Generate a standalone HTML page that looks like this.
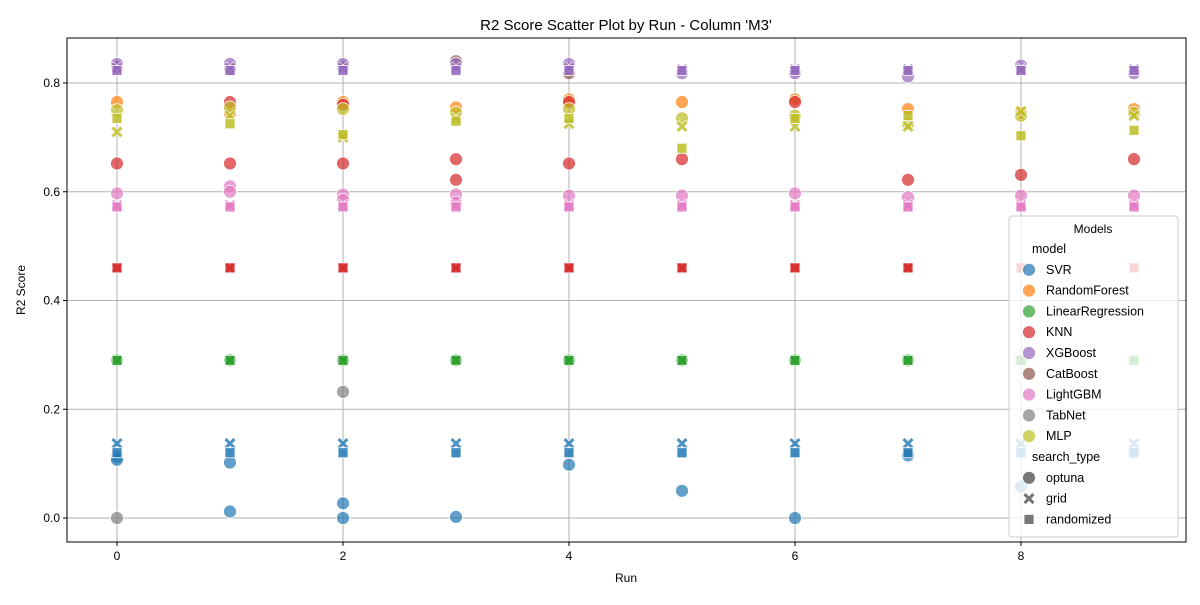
<!DOCTYPE html>
<html><head><meta charset="utf-8"><style>
body{margin:0;background:#fff}
svg text{font-family:"Liberation Sans","DejaVu Sans",sans-serif;fill:#000}
</style></head><body>
<svg id="chart" width="1200" height="600" xmlns="http://www.w3.org/2000/svg">
<rect width="1200" height="600" fill="#fff"/>
<text x="626" y="30" font-size="15" text-anchor="middle">R2 Score Scatter Plot by Run - Column 'M3'</text>
<g id="grid"></g><g id="marks"></g>
<rect x="67" y="38" width="1119" height="504" fill="none" stroke="#000" stroke-width="1"/>
<g id="axes"></g>
<text x="626" y="582" font-size="12" text-anchor="middle">Run</text>
<text transform="translate(25,290) rotate(-90)" font-size="12" text-anchor="middle">R2 Score</text>
<g id="legend"></g>
</svg>
<script>
const runs=[0,1,2,3,4,5,6,7,8,9];
const xTicks=[0,2,4,6,8];
const yTicks=[0.0,0.2,0.4,0.6,0.8];
const models=["SVR","RandomForest","LinearRegression","KNN","XGBoost","CatBoost","LightGBM","TabNet","MLP"];
const colors=["#1f77b4","#ff7f0e","#2ca02c","#d62728","#9467bd","#8c564b","#e377c2","#7f7f7f","#bcbd22"];
const searchTypes=["optuna","grid","randomized"];
const svrOptuna=[[0.112,0.107],[0.102,0.012],[0.027,0.0],[0.002],[0.098],[0.05],[0.0],[0.115],[0.058],[0.12]];
const svrGrid=[0.137,0.137,0.137,0.137,0.137,0.137,0.137,0.137,0.137,0.137];
const svrRand=[0.12,0.12,0.12,0.12,0.12,0.12,0.12,0.12,0.12,0.12];
const rfOptuna=[[0.765],[0.745],[0.765],[0.755],[0.77],[0.765],[0.77],[0.752],[0.745],[0.752]];
const lrOptuna=[[0.29],[0.29],[0.29],[0.29],[0.29],[0.29],[0.29],[0.29],[0.29],[0.29]];
const lrGrid=[0.29,0.29,0.29,0.29,0.29,0.29,0.29,0.29,0.29,0.29];
const lrRand=[0.29,0.29,0.29,0.29,0.29,0.29,0.29,0.29,0.29,0.29];
const knnOptuna=[[0.652],[0.652,0.765],[0.652,0.76],[0.66,0.622],[0.652,0.765],[0.66],[0.765],[0.622],[0.631],[0.66]];
const knnGrid=[0.46,0.46,0.46,0.46,0.46,0.46,0.46,0.46,0.46,0.46];
const knnRand=[0.46,0.46,0.46,0.46,0.46,0.46,0.46,0.46,0.46,0.46];
const catOptuna=[[0.83],[0.825],[0.83],[0.84],[0.818],[],[],[],[],[]];
const xgbOptuna=[[0.835],[0.835],[0.835],[0.835],[0.835],[0.818],[0.818],[0.812],[0.832],[0.818]];
const xgbGrid=[0.828,0.828,0.828,0.828,0.828,0.825,0.825,0.825,0.825,0.825];
const xgbRand=[0.823,0.823,0.823,0.823,0.823,0.823,0.823,0.823,0.823,0.823];
const lgbOptuna=[[0.597],[0.61,0.6],[0.595,0.585],[0.595,0.58],[0.593],[0.593],[0.597],[0.59],[0.593],[0.593]];
const lgbGrid=[0.575,0.575,0.575,0.575,0.575,0.575,0.575,0.575,0.575,0.575];
const lgbRand=[0.572,0.572,0.572,0.572,0.572,0.572,0.572,0.572,0.572,0.572];
const tabOptuna=[[0.0],[],[0.232],[],[],[],[],[],[],[]];
const mlpOptuna=[[0.75],[0.755],[0.752],[0.745],[0.752],[0.735],[0.74],[0.725],[0.74],[0.745]];
const mlpGrid=[0.71,0.74,0.7,0.735,0.725,0.72,0.72,0.72,0.748,0.74];
const mlpRand=[0.735,0.725,0.705,0.73,0.735,0.68,0.735,0.74,0.703,0.713];
const optunaData=[svrOptuna,rfOptuna,lrOptuna,knnOptuna,xgbOptuna,catOptuna,lgbOptuna,tabOptuna,mlpOptuna];
const gridData=[svrGrid,null,lrGrid,knnGrid,xgbGrid,null,lgbGrid,null,mlpGrid];
const randData=[svrRand,null,lrRand,knnRand,xgbRand,null,lgbRand,null,mlpRand];
const drawOrder=[0,1,2,3,5,4,6,7,8];

const NS="http://www.w3.org/2000/svg";
const xS=v=>117+v*113;
const yS=v=>518-v*543.75;
function mk(tag,attrs,parent){const e=document.createElementNS(NS,tag);for(const k in attrs)e.setAttribute(k,attrs[k]);parent.appendChild(e);return e;}
const G=document.getElementById('grid'),M=document.getElementById('marks'),A=document.getElementById('axes'),L=document.getElementById('legend');
xTicks.forEach(t=>{
 const l=mk('line',{x1:xS(t),x2:xS(t),y1:38,y2:542,stroke:'#b0b0b0','stroke-width':1},G);
 
 
 mk('line',{x1:xS(t),x2:xS(t),y1:542,y2:546,stroke:'#000'},A);
 const tx=mk('text',{x:xS(t),y:560,'font-size':12,'text-anchor':'middle'},A);tx.textContent=t;
 
 
});
yTicks.forEach(t=>{
 const l=mk('line',{x1:67,x2:1186,y1:yS(t),y2:yS(t),stroke:'#b0b0b0','stroke-width':1},G);
 
 
 mk('line',{x1:63,x2:67,y1:yS(t),y2:yS(t),stroke:'#000'},A);
 const tx=mk('text',{x:60,y:yS(t)+4,'font-size':12,'text-anchor':'end'},A);tx.textContent=t.toFixed(1);
 
 
});
function marker(type,cx,cy,col,parent,op){
 let e;
 if(type==='optuna'){e=mk('circle',{cx:cx,cy:cy,r:6.5,fill:col,'fill-opacity':op,stroke:'#fff','stroke-width':0.8},parent);}
 else if(type==='grid'){const a=6,b=2.6;e=mk('path',{d:`M${cx-a},${cy-a+b} L${cx-a+b},${cy-a} L${cx},${cy-b} L${cx+a-b},${cy-a} L${cx+a},${cy-a+b} L${cx+b},${cy} L${cx+a},${cy+a-b} L${cx+a-b},${cy+a} L${cx},${cy+b} L${cx-a+b},${cy+a} L${cx-a},${cy+a-b} L${cx-b},${cy} Z`,fill:col,'fill-opacity':op,stroke:'#fff','stroke-width':0.6},parent);}
 else {e=mk('rect',{x:cx-5,y:cy-5,width:10,height:10,fill:col,'fill-opacity':op,stroke:'#fff','stroke-width':0.8},parent);}
 return e;
}
drawOrder.forEach(i=>{
 const m=models[i];
 runs.forEach(r=>{
  (optunaData[i][r]||[]).forEach(v=>{const e=marker('optuna',xS(r),yS(v),colors[i],M,0.7);
   
   });
  if(gridData[i]){const e=marker('grid',xS(r),yS(gridData[i][r]),colors[i],M,0.8);
   
   }
  if(randData[i]){const e=marker('rand',xS(r),yS(randData[i][r]),colors[i],M,0.85);
   
   }
 });
});
mk('rect',{x:1009,y:216,width:169,height:321,rx:3,fill:'#fff','fill-opacity':0.8,stroke:'#ccc'},L);
const lt=mk('text',{x:1093,y:233,'font-size':12,'text-anchor':'middle'},L);lt.textContent='Models';


const items=[["model",null,null]].concat(models.map((m,i)=>[m,'optuna',colors[i]])).concat([["search_type",null,null]]).concat(searchTypes.map(s=>[s,s,'#555']));
items.forEach((it,k)=>{
 const y=249+k*20.8;
 const g=mk('g',{},L);
 
 
 if(it[1])marker(it[1]==='randomized'?'rand':it[1],1029,y,it[2],g,it[1]==='optuna'&&it[2]!=='#555'?0.7:0.8);
 const t=mk('text',{x:it[1]?1046:1032,y:y+4,'font-size':12.5},g);t.textContent=it[0];
});
</script>
</body></html>
